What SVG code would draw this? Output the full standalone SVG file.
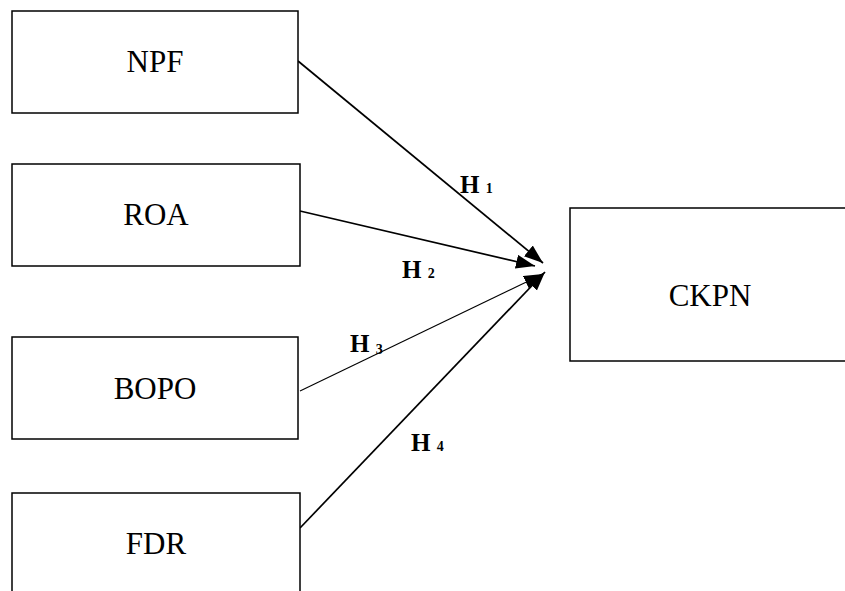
<svg xmlns="http://www.w3.org/2000/svg" width="845" height="591" viewBox="0 0 845 591">
<style>
.box{fill:#fff;stroke:#000;stroke-width:1.5}
.lbl{font-family:"Liberation Serif","Times New Roman",serif;font-size:31px;fill:#000;text-anchor:middle}
.h{font-family:"Liberation Serif","Times New Roman",serif;font-weight:bold;font-size:25px;fill:#000}
.sub{font-size:14px}
.con{stroke:#000;stroke-width:1.7;fill:none;marker-end:url(#ah)}
</style>
<defs>
<marker id="ah" markerUnits="userSpaceOnUse" markerWidth="22" markerHeight="16" refX="19" refY="7" orient="auto">
<path d="M0,0 L19,7 L0,14 z" fill="#000"/>
</marker>
</defs>
<rect width="845" height="591" fill="#fff"/>
<g id="connectors">
<line class="con" x1="298" y1="61" x2="543" y2="263"/>
<line class="con" x1="300" y1="211" x2="535" y2="266"/>
<line class="con" x1="300" y1="391" x2="543" y2="274" style="stroke-width:1.1"/>
<line class="con" x1="300" y1="528" x2="545" y2="272"/>
<text class="h" x="460" y="193">H <tspan class="sub">1</tspan></text>
<text class="h" x="402" y="278">H <tspan class="sub">2</tspan></text>
<text class="h" x="350" y="352">H <tspan class="sub" dy="2">3</tspan></text>
<text class="h" x="411" y="451">H <tspan class="sub">4</tspan></text>
</g>
<g id="npf"><rect class="box" x="12" y="11" width="286" height="102"/><text class="lbl" x="155" y="72">NPF</text></g>
<g id="roa"><rect class="box" x="12" y="164" width="288" height="102"/><text class="lbl" x="156" y="225">ROA</text></g>
<g id="bopo"><rect class="box" x="12" y="337" width="286" height="102"/><text class="lbl" x="155" y="399">BOPO</text></g>
<g id="fdr"><rect class="box" x="12" y="493" width="288" height="110"/><text class="lbl" x="156" y="554">FDR</text></g>
<g id="ckpn"><rect class="box" x="570" y="208" width="285" height="153"/><text class="lbl" x="710" y="306">CKPN</text></g>
</svg>
